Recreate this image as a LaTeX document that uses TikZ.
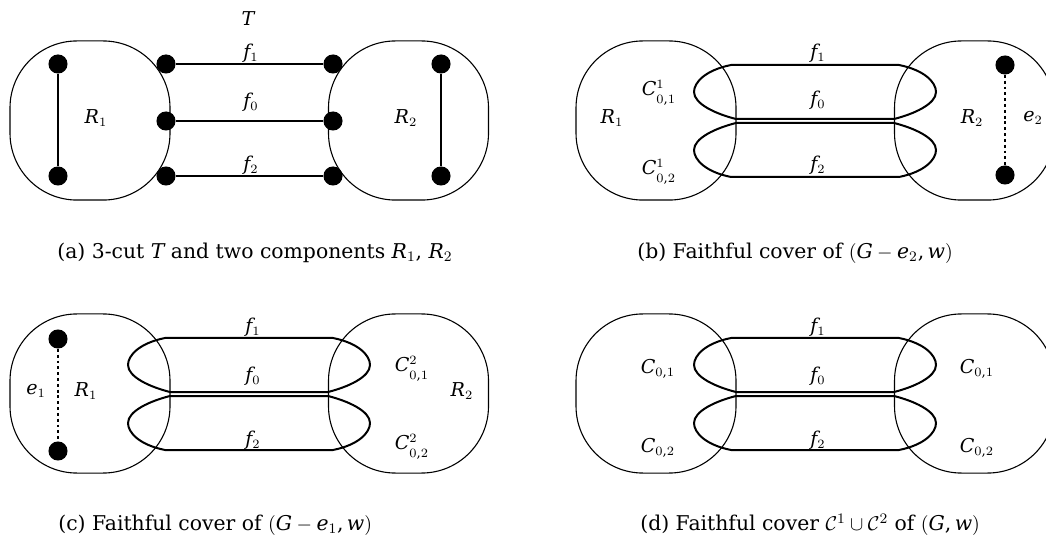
\documentclass[tikz,border=0pt]{standalone}
\usepackage{amsmath}
\usepackage{fontspec}
\setmainfont{DejaVu Serif}[NFSSFamily=dvserif]
\SetSymbolFont{letters}{normal}{TU}{dvserif}{m}{it}
\SetSymbolFont{operators}{normal}{TU}{dvserif}{m}{n}
\mathcode`\,="602C
% class label with superscript and lowered subscript
\newcommand\clab[2]{C^{#1}_{\raisebox{-1.6pt}{$\scriptstyle #2$}}}
\tikzset{
  region/.style={draw, line width=0.6pt, rounded corners=36.8pt,
    minimum width=88pt, minimum height=87.5pt, inner sep=0pt},
  vtx/.style={circle, fill, inner sep=0pt, minimum size=10.5pt},
  lbl/.style={inner sep=0pt, font=\fontsize{10.5}{12}\selectfont},
  subcap/.style={anchor=west, inner sep=0pt, font=\fontsize{11.2}{13}\selectfont},
  inedge/.style={line width=1.6pt},
  cutedge/.style={line width=1.1pt},
  missing/.style={line width=1.6pt, dash pattern=on 1.6pt off 1.6pt},
  lensline/.style={line width=1.1pt, line join=round},
  coverlens/.pic={
    \draw[lensline] (170,119) .. controls (150,114) and (128,104) .. (128,92)
      .. controls (128,82) and (140,70) .. (165,65) -- (333,65)
      .. controls (358,70) and (370,82) .. (370,92)
      .. controls (370,104) and (348,114) .. (328,119) -- cycle;
    \draw[lensline] (170,123) .. controls (150,128) and (128,138) .. (128,150)
      .. controls (128,160) and (140,172) .. (165,177) -- (333,177)
      .. controls (358,172) and (370,160) .. (370,150)
      .. controls (370,138) and (348,128) .. (328,123) -- cycle;
  }
}
\begin{document}
\begin{tikzpicture}[x=0.55pt, y=-0.55pt]
\useasboundingbox (0,0) rectangle (1046,544);

% (a) the 3-cut
\begin{scope}
\node[region] (a-R1) at (90,120.5) {};
\node[region] (a-R2) at (408.5,120.5) {};
\node[vtx] (a-u1) at (58,64) {};
\node[vtx] (a-u2) at (58,176) {};
\node[vtx] (a-v1) at (441,64) {};
\node[vtx] (a-v2) at (441,176) {};
\node[vtx] (a-s1) at (166,64) {};
\node[vtx] (a-s0) at (166,121) {};
\node[vtx] (a-s2) at (166,176) {};
\node[vtx] (a-t1) at (333,64) {};
\node[vtx] (a-t0) at (333,121) {};
\node[vtx] (a-t2) at (333,176) {};
\draw[inedge] (a-u1) -- (a-u2);
\draw[inedge] (a-v1) -- (a-v2);
\draw[cutedge] (a-s1) -- (a-t1);
\draw[inedge] (a-s0) -- (a-t0);
\draw[cutedge] (a-s2) -- (a-t2);
\node[lbl] (a-T) at (248,19) {$T$};
\node[lbl] (a-f1) at (251,53) {$f_1$};
\node[lbl] (a-f0) at (251,102) {$f_0$};
\node[lbl] (a-f2) at (251,165) {$f_2$};
\node[lbl] (a-l1) at (96,118) {$R_1$};
\node[lbl] (a-l2) at (406,118) {$R_2$};
\node[subcap] (a-cap) at (57,253) {(a) 3-cut $T$ and two components $R_1$, $R_2$};
\end{scope}

% (b) e_2 removed
\begin{scope}[shift={(566,0)}]
\node[region] (b-R1) at (90,120.5) {};
\node[region] (b-R2) at (408.5,120.5) {};
\pic {coverlens};
\node[vtx] (b-v1) at (439,65) {};
\node[vtx] (b-v2) at (439,175) {};
\draw[missing] (b-v1) -- (b-v2);
\node[lbl] (b-f1) at (252,53) {$f_1$};
\node[lbl] (b-f0) at (252,100) {$f_0$};
\node[lbl] (b-f2) at (252,165) {$f_2$};
\node[lbl] (b-c1) at (93,93) {$\clab{1}{0,1}$};
\node[lbl] (b-c2) at (93,172) {$\clab{1}{0,2}$};
\node[lbl] (b-l1) at (46,118) {$R_1$};
\node[lbl] (b-l2) at (406,118) {$R_2$};
\node[lbl] (b-e2) at (467,118) {$e_2$};
\node[subcap] (b-cap) at (71,253) {(b) Faithful cover of $(G-e_2,w)$};
\end{scope}

% (c) e_1 removed
\begin{scope}[shift={(0,273)}]
\node[region] (c-R1) at (90,120.5) {};
\node[region] (c-R2) at (408.5,120.5) {};
\pic {coverlens};
\node[vtx] (c-u1) at (58,66) {};
\node[vtx] (c-u2) at (58,178) {};
\draw[missing] (c-u1) -- (c-u2);
\node[lbl] (c-f1) at (253,54) {$f_1$};
\node[lbl] (c-f0) at (253,103) {$f_0$};
\node[lbl] (c-f2) at (253,167) {$f_2$};
\node[lbl] (c-e1) at (36,118) {$e_1$};
\node[lbl] (c-l1) at (86,118) {$R_1$};
\node[lbl] (c-c1) at (412,96) {$\clab{2}{0,1}$};
\node[lbl] (c-c2) at (412,174) {$\clab{2}{0,2}$};
\node[lbl] (c-l2) at (462,118) {$R_2$};
\node[subcap] (c-cap) at (58,252) {(c) Faithful cover of $(G-e_1,w)$};
\end{scope}

% (d) union of both covers
\begin{scope}[shift={(566,273)}]
\node[region] (d-R1) at (90,120.5) {};
\node[region] (d-R2) at (408.5,120.5) {};
\pic {coverlens};
\node[lbl] (d-f1) at (252,54) {$f_1$};
\node[lbl] (d-f0) at (252,103) {$f_0$};
\node[lbl] (d-f2) at (252,167) {$f_2$};
\node[lbl] (d-c1) at (92,96) {$C_{0,1}$};
\node[lbl] (d-c2) at (92,175) {$C_{0,2}$};
\node[lbl] (d-c3) at (411,96) {$C_{0,1}$};
\node[lbl] (d-c4) at (411,175) {$C_{0,2}$};
\node[subcap] (d-cap) at (74,252) {(d) Faithful cover $\mathcal{C}^1\cup\mathcal{C}^2$ of $(G,w)$};
\end{scope}
\end{tikzpicture}
\end{document}
